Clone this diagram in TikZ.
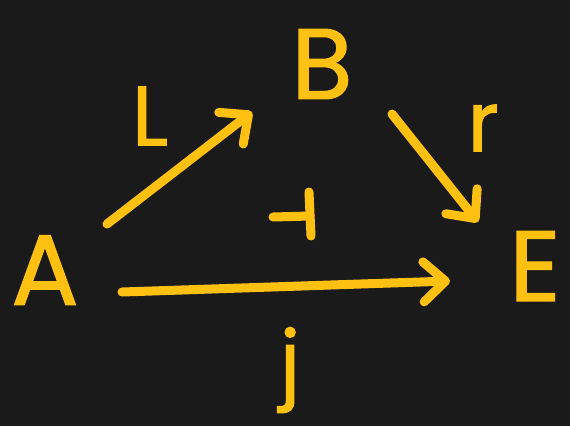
\documentclass[tikz,border=0pt]{standalone}
\usepackage{fontspec}
\setmainfont{Poppins}
\newfontfamily\handfont[FakeBold=1.2]{Poppins}
\usetikzlibrary{arrows.meta}
\definecolor{bg}{HTML}{1A1A1A}
\definecolor{ink}{HTML}{FFC111}
\tikzset{
  obj/.style={text=ink,font=\fontsize{100}{100}\selectfont\handfont,inner sep=0pt},
  lab/.style={text=ink,font=\fontsize{84}{84}\selectfont\handfont,inner sep=0pt},
  arr/.style={draw=ink,line width=9pt,line cap=round,line join=round,
    -{Straight Barb[length=22pt,width=40pt,line width=9pt,round]}},
  stroke/.style={draw=ink,line width=9pt,line cap=round,line join=round}
}
\begin{document}
\begin{tikzpicture}[x=1pt,y=-1pt]
\fill[bg] (0,0) rectangle (570,426);
\useasboundingbox (0,0) rectangle (570,426);
\node[obj] (A) at (45,270) {A};
\node[obj] (B) at (322,64) {B};
\node[obj] (E) at (535,266) {E};
\node[lab] (L) at (150,116) {L};
\node[lab] (r) at (483,128) {r};
\node[lab] (j) at (290,370) {j};
\coordinate (a1) at (107,224);
\coordinate (b1) at (252,112);
\coordinate (b2) at (392,114);
\coordinate (e1) at (478,222);
\coordinate (a2) at (122,292);
\coordinate (e2) at (450,281);
\draw[arr] (a1) -- (b1);
\draw[arr] (b2) -- (e1);
\draw[arr] (a2) -- (e2);
\coordinate (t1) at (273,217);
\coordinate (t2) at (310,216);
\coordinate (t3) at (309,192);
\coordinate (t4) at (311,236);
\draw[stroke] (t1) -- (t2);
\draw[stroke] (t3) -- (t4);
\end{tikzpicture}
\end{document}
